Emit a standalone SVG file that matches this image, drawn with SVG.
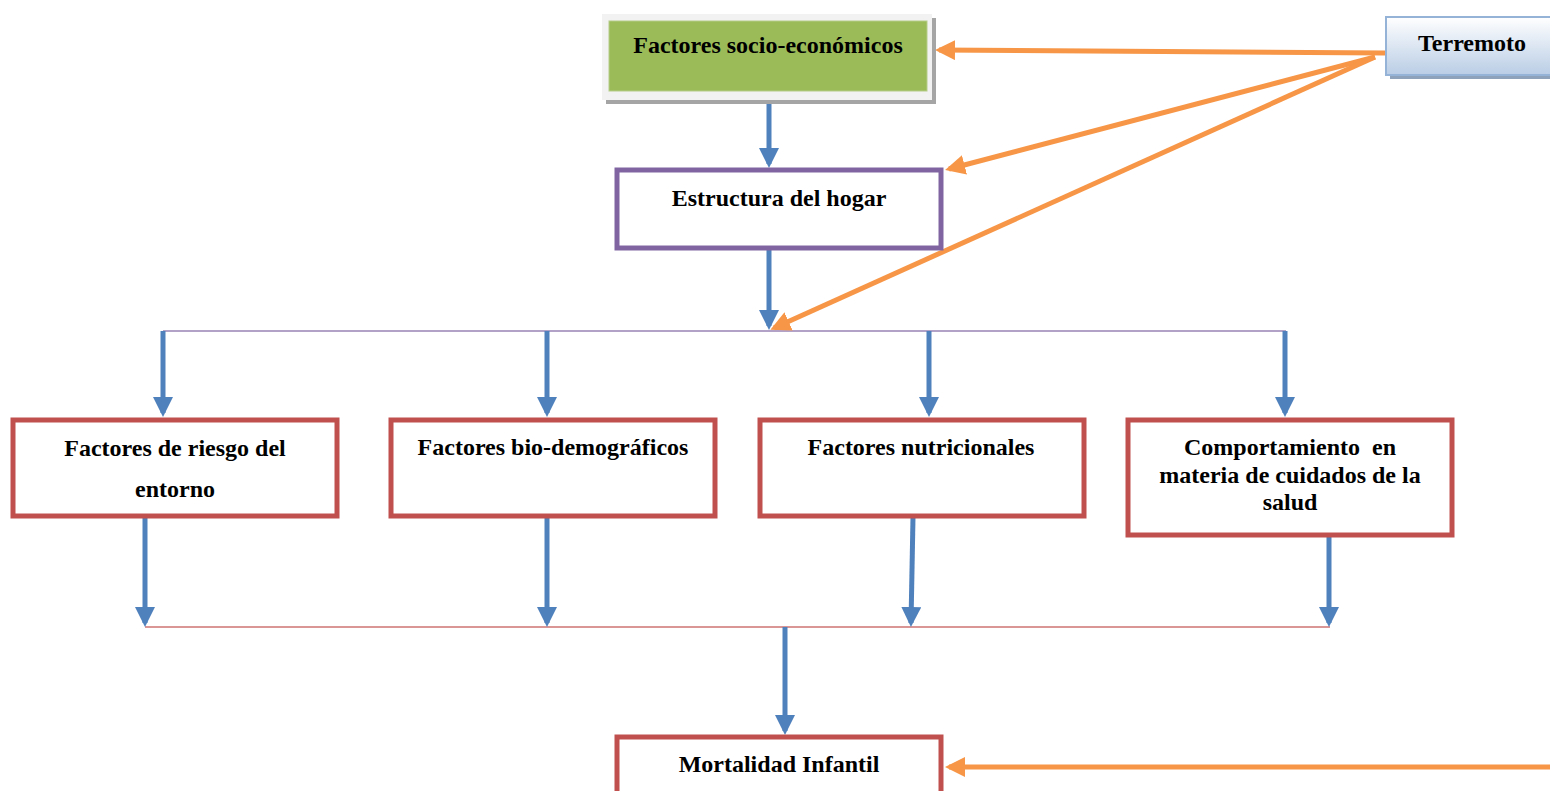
<svg xmlns="http://www.w3.org/2000/svg" width="1550" height="791" viewBox="0 0 1550 791">
<defs>
<style>
.t{font-family:"Liberation Serif","Times New Roman",serif;font-weight:bold;font-size:24px;fill:#000;text-anchor:middle}
.red{fill:#fff;stroke:#C0504D;stroke-width:5}
.blue{stroke:#4F81BD;stroke-width:5;fill:none;marker-end:url(#ab)}
.orange{stroke:#F79646;stroke-width:5;fill:none;marker-end:url(#ao)}
</style>
<marker id="ab" viewBox="0 0 10 10" refX="8" refY="5" markerWidth="4" markerHeight="4" orient="auto"><path d="M0,0 L10,5 L0,10 z" fill="#4F81BD"/></marker>
<marker id="ao" viewBox="0 0 10 10" refX="8" refY="5" markerWidth="4" markerHeight="4" orient="auto"><path d="M0,0 L10,5 L0,10 z" fill="#F79646"/></marker>
<linearGradient id="gb" x1="0" y1="0" x2="0" y2="1"><stop offset="0" stop-color="#FFFFFF"/><stop offset="1" stop-color="#B9CDE5"/></linearGradient>
</defs>
<rect width="1550" height="791" fill="#fff"/>
<g id="connectors">
<line x1="163" y1="331" x2="1286" y2="331" stroke="#B3A2C7" stroke-width="2"/>
<line x1="145" y1="627" x2="1330" y2="627" stroke="#D99694" stroke-width="2"/>
<line class="blue" x1="769" y1="95" x2="769" y2="164"/>
<line class="blue" x1="769" y1="250" x2="769" y2="326"/>
<line class="blue" x1="163" y1="331" x2="163" y2="413"/>
<line class="blue" x1="547" y1="331" x2="547" y2="413"/>
<line class="blue" x1="929" y1="331" x2="929" y2="413"/>
<line class="blue" x1="1285" y1="331" x2="1285" y2="413"/>
<line class="blue" x1="145" y1="517" x2="145" y2="623"/>
<line class="blue" x1="547" y1="517" x2="547" y2="623"/>
<line class="blue" x1="913" y1="517" x2="911" y2="623"/>
<line class="blue" x1="1329" y1="537" x2="1329" y2="623"/>
<line class="blue" x1="785" y1="627" x2="785" y2="731"/>
<line class="orange" x1="1385" y1="53" x2="939" y2="50"/>
<line class="orange" x1="1375" y1="57" x2="949" y2="169"/>
<line class="orange" x1="1375" y1="57" x2="774" y2="328"/>
<line class="orange" x1="1550" y1="767" x2="949" y2="767"/>
</g>
<g id="socio">
<rect x="606" y="18" width="330" height="86" fill="#A5A5A5"/>
<rect x="602" y="14" width="330" height="86" fill="#F2F2F2"/>
<rect x="609" y="21" width="318" height="70" fill="#9BBB59" stroke="#B5CC88" stroke-width="1"/>
<text class="t" x="768" y="53">Factores socio-económicos</text>
</g>
<g id="terremoto">
<rect x="1390" y="21" width="165" height="58" fill="#8EA2BC"/>
<rect x="1386" y="17" width="170" height="58" fill="url(#gb)" stroke="#95B3D7" stroke-width="2"/>
<text class="t" x="1472" y="51">Terremoto</text>
</g>
<g id="estructura">
<rect x="617" y="170" width="324" height="78" fill="#fff" stroke="#8064A2" stroke-width="5"/>
<text class="t" x="779" y="206">Estructura del hogar</text>
</g>
<g id="riesgo">
<rect class="red" x="13" y="420" width="324" height="96"/>
<text class="t" x="175" y="456">Factores de riesgo del</text>
<text class="t" x="175" y="497">entorno</text>
</g>
<g id="bio">
<rect class="red" x="391" y="420" width="324" height="96"/>
<text class="t" x="553" y="455">Factores bio-demográficos</text>
</g>
<g id="nutri">
<rect class="red" x="760" y="420" width="324" height="96"/>
<text class="t" x="921" y="455">Factores nutricionales</text>
</g>
<g id="comportamiento">
<rect class="red" x="1128" y="420" width="324" height="115"/>
<text class="t" x="1290" y="455" xml:space="preserve">Comportamiento  en</text>
<text class="t" x="1290" y="483">materia de cuidados de la</text>
<text class="t" x="1290" y="510">salud</text>
</g>
<g id="mortalidad">
<rect class="red" x="617" y="737" width="324" height="60"/>
<text class="t" x="779" y="772">Mortalidad Infantil</text>
</g>
</svg>
